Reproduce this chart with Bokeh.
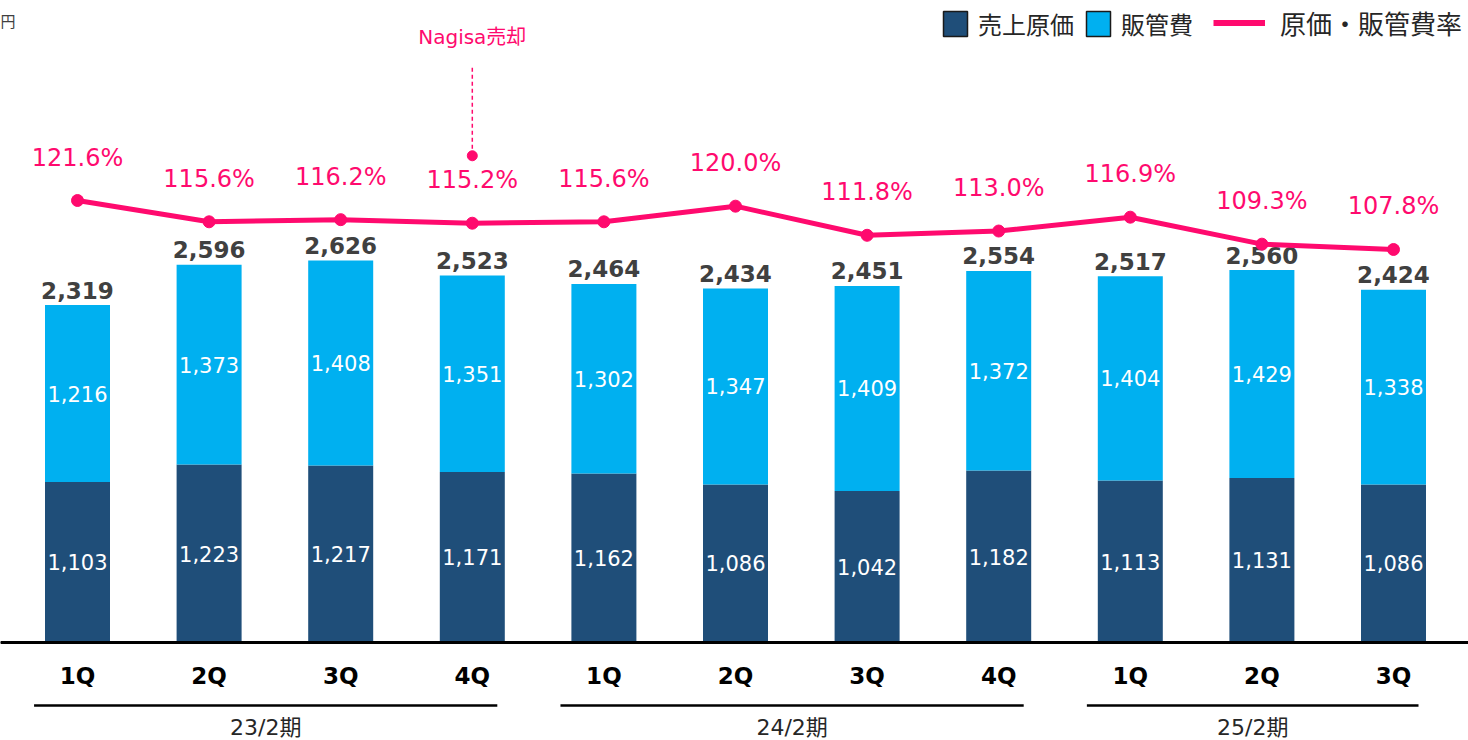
from bokeh.plotting import figure
from bokeh.models import Range1d, Span, Legend, LegendItem, ColumnDataSource, Label
from bokeh.core.properties import value
from bokeh.embed import file_html
from bokeh.resources import INLINE

# ---------------- data ----------------
quarters = ["1Q", "2Q", "3Q", "4Q", "1Q", "2Q", "3Q", "4Q", "1Q", "2Q", "3Q"]
periods = ["23/2期", "24/2期", "25/2期"]
period_sizes = [4, 4, 3]
cost_of_sales = [1103, 1223, 1217, 1171, 1162, 1086, 1042, 1182, 1113, 1131, 1086]
sga = [1216, 1373, 1408, 1351, 1302, 1347, 1409, 1372, 1404, 1429, 1338]
totals = [2319, 2596, 2626, 2523, 2464, 2434, 2451, 2554, 2517, 2560, 2424]
ratio = [121.6, 115.6, 116.2, 115.2, 115.6, 120.0, 111.8, 113.0, 116.9, 109.3, 107.8]
note_index = 3
note_text = "Nagisa売却"

# ---------------- style ----------------
DARK = "#1F4E79"
LIGHT = "#00B0F0"
PINK = "#FF0A6E"
W, H = 1468, 740
KY = 0.1455          # px per unit (bars)
KP = 3.55            # px per % (line)
PX = 131.6           # px per category
BASE = 642           # baseline, px from top

x = list(range(len(quarters)))
x0 = -77 / PX
p = figure(width=W, height=H, output_backend="svg", toolbar_location=None,
           x_range=Range1d(x0, x0 + W / PX),
           y_range=Range1d(-(H - BASE) / KY, BASE / KY),
           x_axis_location=None, y_axis_location=None,
           min_border=0, outline_line_color=None)
p1 = 121.6 + 200 / KP
p.extra_y_ranges = {"pct": Range1d(p1 - H / KP, p1)}
p.grid.grid_line_color = None

tops = [c + s for c, s in zip(cost_of_sales, sga)]
src = ColumnDataSource(dict(
    x=x, cos=cost_of_sales, top=tops,
    cos_mid=[c / 2 for c in cost_of_sales],
    sga_mid=[c + s / 2 for c, s in zip(cost_of_sales, sga)],
    cos_lbl=[f"{v:,}" for v in cost_of_sales],
    sga_lbl=[f"{v:,}" for v in sga],
    tot_lbl=[f"{v:,}" for v in totals],
    ratio=ratio, ratio_lbl=[f"{v:.1f}%" for v in ratio],
    q=quarters, zero=[0] * len(x),
))

BW = 65 / PX
p.vbar(x="x", bottom=0, top="cos", width=BW, fill_color=DARK, line_color=None, source=src)
p.vbar(x="x", bottom="cos", top="top", width=BW, fill_color=LIGHT, line_color=None, source=src)

NUM = value("DejaVu Sans")
p.text(x="x", y="cos_mid", text="cos_lbl", source=src, text_align="center", text_baseline="middle",
       text_color="white", text_font=NUM, text_font_size="21px")
p.text(x="x", y="sga_mid", text="sga_lbl", source=src, text_align="center", text_baseline="middle",
       text_color="white", text_font=NUM, text_font_size="21px")
p.text(x="x", y="top", text="tot_lbl", source=src, text_align="center", text_baseline="middle",
       y_offset=-15, text_color="#404040", text_font=NUM, text_font_style="bold", text_font_size="23px")

# ratio line
p.line(x="x", y="ratio", source=src, y_range_name="pct", line_color=PINK, line_width=5)
p.scatter(x="x", y="ratio", source=src, y_range_name="pct", size=12, fill_color=PINK, line_color=PINK)
p.text(x="x", y="ratio", text="ratio_lbl", source=src, y_range_name="pct", text_align="center",
       text_baseline="middle", y_offset=-43, text_color=PINK, text_font=NUM, text_font_size="24px")

# annotation
nv = ratio[note_index]
p.segment(x0=[note_index], y0=[nv + 19], x1=[note_index], y1=[nv + 44], y_range_name="pct",
          line_color=PINK, line_width=1.5, line_dash="4 3")
p.scatter(x=[note_index], y=[nv + 19], y_range_name="pct", size=10, fill_color=PINK, line_color=PINK)
p.text(x=[note_index], y=[nv + 44], text=[note_text], y_range_name="pct", text_align="center",
       text_baseline="middle", y_offset=-30, text_color=PINK,
       text_font=value("DejaVu Sans, Noto Sans CJK JP"), text_font_size="20px")

# baseline
p.add_layout(Span(location=0, dimension="width", line_color="black", line_width=3))

# quarter labels
p.text(x="x", y="zero", text="q", source=src, text_align="center", text_baseline="middle",
       y_offset=33, text_color="black", text_font=NUM, text_font_style="bold", text_font_size="23px")

# period brackets
starts, ends, mids = [], [], []
i = 0
for n in period_sizes:
    s, e = i - 0.33, i + n - 1 + 0.19
    starts.append(s); ends.append(e); mids.append((s + e) / 2)
    i += n
by = -63 / KY
p.segment(x0=starts, y0=[by] * 3, x1=ends, y1=[by] * 3, line_color="black", line_width=2.5)
p.text(x=mids, y=[by] * 3, text=periods, text_align="center", text_baseline="middle", y_offset=22,
       text_color="#262626", text_font=value("DejaVu Sans, Noto Sans CJK JP"), text_font_size="22px")

# unit label
p.add_layout(Label(x=0, y=H - 20, x_units="screen", y_units="screen", text="円",
                   text_font="Noto Sans CJK JP", text_font_size="15px", text_color="#404040",
                   text_baseline="middle"))

# legends (proxy renderers placed outside the visible range)
far = [-100]
leg_dark = p.vbar(x=far, top=[0], width=0.5, fill_color=DARK, line_color="#1a1a1a", line_width=1.5)
leg_light = p.vbar(x=far, top=[0], width=0.5, fill_color=LIGHT, line_color="#1a1a1a", line_width=1.5)
leg_line = p.line(x=[-100, -99], y=[0, 0], line_color=PINK, line_width=6)

common = dict(orientation="horizontal", padding=0, margin=0, border_line_color=None,
              background_fill_alpha=0, label_text_font="Noto Sans CJK JP",
              label_text_color="#262626", glyph_height=31, label_height=31)
leg1 = Legend(items=[LegendItem(label="売上原価", renderers=[leg_dark]),
                     LegendItem(label="販管費", renderers=[leg_light])],
              location=(940, H - 41), glyph_width=30, label_standoff=8, spacing=9,
              label_text_font_size="24px", **common)
leg2 = Legend(items=[LegendItem(label="原価・販管費率", renderers=[leg_line])],
              location=(1213, H - 41), glyph_width=52, label_standoff=15,
              label_text_font_size="26px", **common)
p.add_layout(leg1)
p.add_layout(leg2)

open("out.html", "w").write(file_html(p, INLINE))
